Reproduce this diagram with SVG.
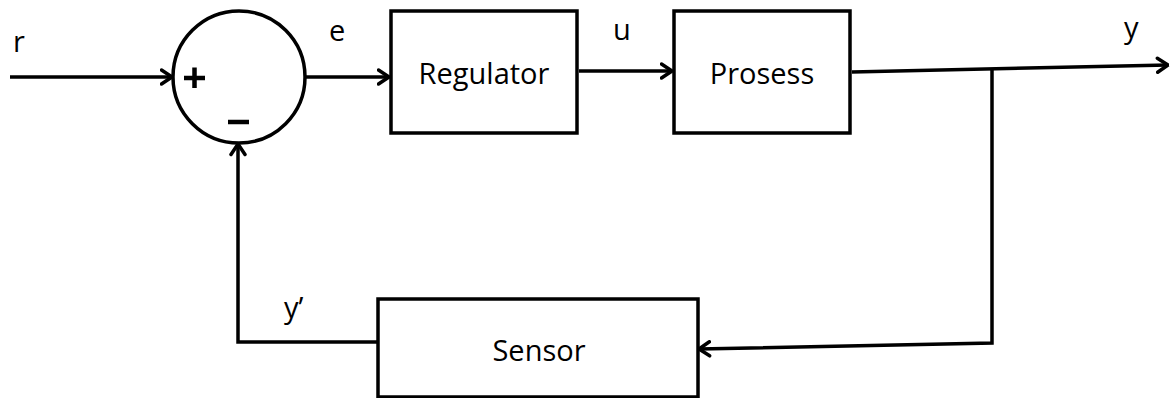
<svg xmlns="http://www.w3.org/2000/svg" width="1171" height="398" viewBox="0 0 1171 398">
<defs>
<marker id="arr" viewBox="0 0 14 18" refX="12.5" refY="9" markerWidth="14" markerHeight="18" markerUnits="userSpaceOnUse" orient="auto">
<path d="M2,2 L12.5,9 L2,16" fill="none" stroke="#000" stroke-width="3.5" stroke-linecap="round" stroke-linejoin="round"/>
</marker>
</defs>
<style>
.box{fill:#fff;stroke:#000;stroke-width:3.5}
.ln{fill:none;stroke:#000;stroke-width:3.5;stroke-linejoin:miter}
.t{font-family:"Open Sans","Liberation Sans",sans-serif;font-size:29px;fill:#000}
</style>
<rect width="1171" height="398" fill="#fff"/>
<g id="connectors">
<path class="ln" d="M10,77 L172,77" marker-end="url(#arr)"/>
<path class="ln" d="M306,77 L389,77" marker-end="url(#arr)"/>
<path class="ln" d="M579,71 L672,71" marker-end="url(#arr)"/>
<path class="ln" d="M852,72 L1168,65" marker-end="url(#arr)"/>
<path class="ln" d="M992,68 L992,343 L699,349" marker-end="url(#arr)"/>
<path class="ln" d="M378,342 L238,342 L238,144" marker-end="url(#arr)"/>
</g>
<g id="labels">
<text class="t" x="13" y="52">r</text>
<text class="t" x="329" y="41">e</text>
<text class="t" x="613" y="40">u</text>
<text class="t" x="1124" y="38">y</text>
<text class="t" x="284" y="318">y’</text>
</g>
<g id="sum">
<circle cx="239" cy="77" r="66" fill="#fff" stroke="#000" stroke-width="3.5"/>
<path d="M184,78 L205,78 M194.5,67.5 L194.5,88" stroke="#000" stroke-width="4.5" fill="none"/>
<path d="M228,122 L249,122" stroke="#000" stroke-width="4.5" fill="none"/>
</g>
<g id="regulator">
<rect class="box" x="391" y="11" width="186" height="122"/>
<text class="t" x="484" y="84" text-anchor="middle">Regulator</text>
</g>
<g id="prosess">
<rect class="box" x="674" y="11" width="176" height="122"/>
<text class="t" x="762" y="84" text-anchor="middle">Prosess</text>
</g>
<g id="sensor">
<rect class="box" x="378" y="299" width="320" height="98"/>
<text class="t" x="539" y="361" text-anchor="middle">Sensor</text>
</g>
</svg>
